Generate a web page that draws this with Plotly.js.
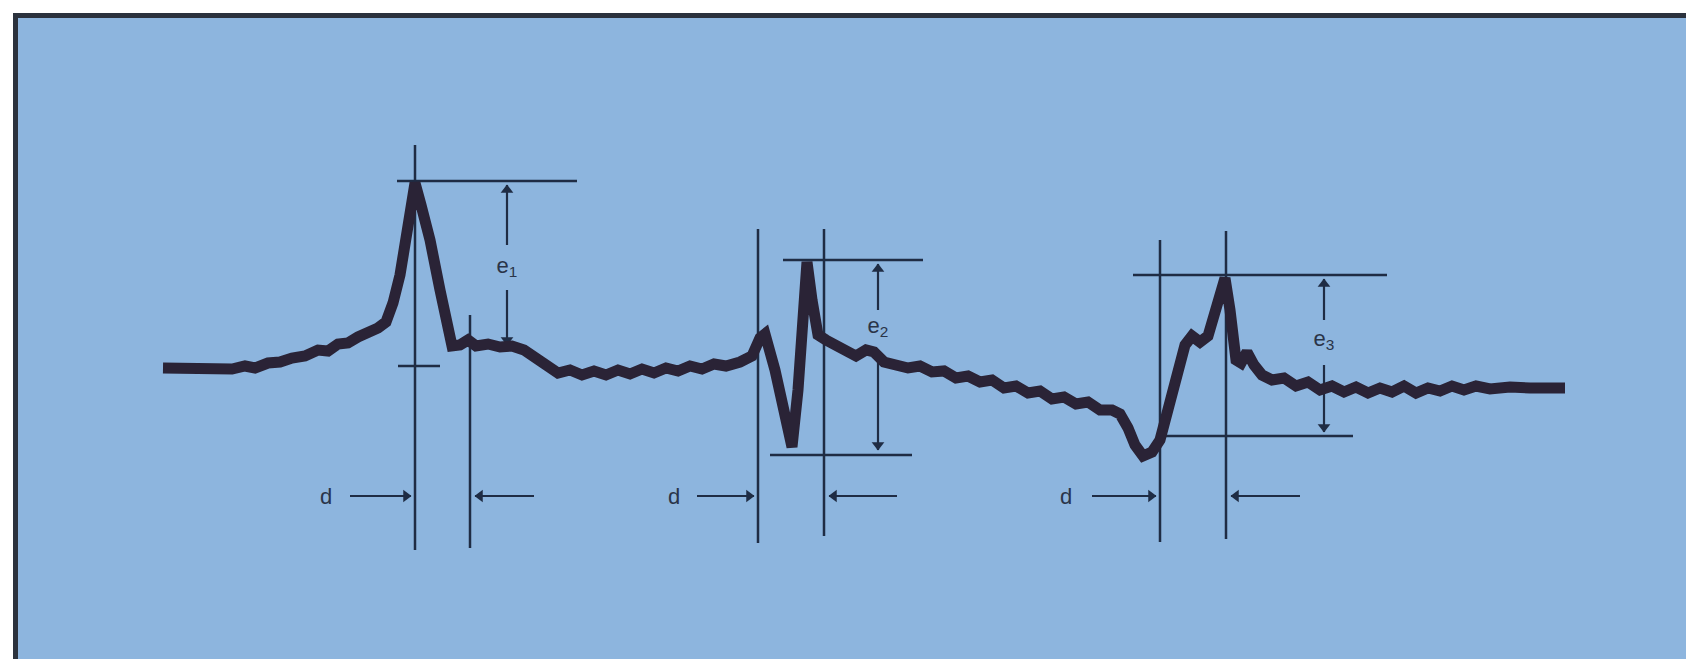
<!DOCTYPE html>
<html>
<head>
<meta charset="utf-8">
<script src="https://cdn.plot.ly/plotly-3.0.1.min.js"></script>
<style>html,body{margin:0;padding:0;background:#fff;}#chart{width:1686px;height:659px;}</style>
</head>
<body>
<div id="chart"></div>
<script>
// Signal trace (time units, amplitude units; y grows downward on the axis)
const signalX = [163,185,210,232,245,255,268,280,292,305,318,328,338,348,358,368,378,386,
  393,400,407,412,415,421,430,440,448,452,
  460,468,476,488,500,512,524,536,548,558,570,582,594,606,618,630,642,654,666,678,690,702,714,726,740,752,
  760,765,775,785,792,798,803,807,
  812,818,826,836,846,856,866,874,884,896,908,920,932,944,956,968,980,992,1004,1016,1028,1040,1052,1064,1076,1088,1100,1112,1120,
  1128,1135,1143,1152,1160,1168,1176,1185,1192,1200,1208,1216,1225,
  1230,1236,1241,1247,1254,1262,1272,1284,1296,1308,1320,1332,1344,1356,1368,1380,1392,1404,1416,1428,1440,1452,1464,1476,1490,1510,1530,1550,1565];
const signalY = [368,368,368,369,366,368,363,362,358,356,350,351,344,343,337,333,328,322,
  303,275,237,205,183,205,240,290,330,346,
  345,340,346,344,347,346,350,358,367,373,370,375,371,375,370,374,369,373,368,371,366,369,364,366,362,356,
  338,334,370,420,447,390,310,262,
  300,335,340,345,352,356,350,352,362,364,368,366,372,371,378,376,382,380,388,386,393,391,399,397,404,402,410,410,414,
  428,445,456,452,440,410,380,345,336,342,336,310,278,
  310,360,363,352,365,375,380,378,386,382,390,386,392,387,393,388,392,386,393,388,391,386,390,386,389,387,388,387,388];

// Gate markers (vertical lines)
const gateX      = [415, 470, 758, 824, 1160, 1226];
const gateTop    = [145, 315, 229, 229, 240, 231];
const gateBottom = [550, 548, 543, 536, 542, 539];

// Level lines (horizontal)
const levelY  = [181, 366, 260, 455, 275, 436];
const levelX0 = [397, 398, 783, 770, 1133, 1163];
const levelX1 = [577, 440, 923, 912, 1387, 1353];

// Amplitude labels and their double-arrow
const ampLabels = ['e<sub>1</sub>', 'e<sub>2</sub>', 'e<sub>3</sub>'];
const ampX      = [507, 878, 1324];
const ampLabelY = [267, 327, 340];
const ampTopHead = [185, 264, 279];
const ampTopTail = [245, 310, 320];
const ampBotTail = [290, 350, 365];
const ampBotHead = [345, 450, 432];

// Distance labels "d" and their arrows
const distLabels = ['d', 'd', 'd'];
const distLabelX = [326, 674, 1066];
const distY      = [496, 496, 496];
const distLeftTail  = [350, 697, 1092];
const distLeftHead  = [411, 754, 1156];
const distRightTail = [534, 897, 1300];
const distRightHead = [475, 829, 1231];

const ink = '#1f2c44';
const traces = [];
function seg(x0, y0, x1, y1, w) {
  traces.push({x:[x0, x1], y:[y0, y1], mode:'lines', line:{color:ink, width:w},
    hoverinfo:'skip', showlegend:false});
}
function head(x, y, sym) {
  traces.push({x:[x], y:[y], mode:'markers', marker:{symbol:sym, size:11, color:ink, line:{width:0}},
    hoverinfo:'skip', showlegend:false});
}
for (let i = 0; i < gateX.length; i++) seg(gateX[i], gateTop[i], gateX[i], gateBottom[i], 2.5);
for (let i = 0; i < levelY.length; i++) seg(levelX0[i], levelY[i], levelX1[i], levelY[i], 2.5);
for (let i = 0; i < ampX.length; i++) {
  seg(ampX[i], ampTopTail[i], ampX[i], ampTopHead[i], 2.2);
  head(ampX[i], ampTopHead[i] + 5, 'triangle-up');
  seg(ampX[i], ampBotTail[i], ampX[i], ampBotHead[i], 2.2);
  head(ampX[i], ampBotHead[i] - 5, 'triangle-down');
}
for (let i = 0; i < distLabelX.length; i++) {
  seg(distLeftTail[i], distY[i], distLeftHead[i], distY[i], 2.2);
  head(distLeftHead[i] - 5, distY[i], 'triangle-right');
  seg(distRightTail[i], distY[i], distRightHead[i], distY[i], 2.2);
  head(distRightHead[i] + 5, distY[i], 'triangle-left');
}
traces.push({x:signalX, y:signalY, mode:'lines', line:{color:'#2a2336', width:11, shape:'linear'},
  hoverinfo:'skip', showlegend:false});

const labelFont = {family:'Liberation Sans, Arial, sans-serif', size:22, color:'#2a3448'};
traces.push({x:ampX, y:ampLabelY, mode:'text', text:ampLabels, textposition:'middle center',
  textfont:labelFont, hoverinfo:'skip', showlegend:false, cliponaxis:false});
traces.push({x:distLabelX, y:distY.map(v => v + 2), mode:'text', text:distLabels, textposition:'middle center',
  textfont:labelFont, hoverinfo:'skip', showlegend:false, cliponaxis:false});

const layout = {
  width:1686, height:659,
  margin:{l:18, r:0, t:18, b:0, pad:0},
  paper_bgcolor:'#ffffff',
  plot_bgcolor:'#8db5de',
  xaxis:{range:[18,1686], showgrid:false, zeroline:false, showticklabels:false, ticks:'',
    showline:true, side:'top', linecolor:'#2b323d', linewidth:5, fixedrange:true},
  yaxis:{range:[659,18], showgrid:false, zeroline:false, showticklabels:false, ticks:'',
    showline:true, side:'left', linecolor:'#2b323d', linewidth:5, fixedrange:true},
  showlegend:false
};
Plotly.newPlot('chart', traces, layout, {staticPlot:true, displayModeBar:false});
</script>
</body>
</html>
